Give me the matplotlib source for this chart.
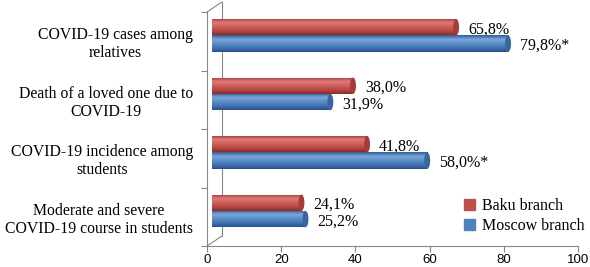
import numpy as np
import matplotlib.pyplot as plt
from matplotlib.patches import Ellipse
from matplotlib.colors import LinearSegmentedColormap
from matplotlib.lines import Line2D

categories = ["COVID-19 cases among\nrelatives",
              "Death of a loved one due to\nCOVID-19",
              "COVID-19 incidence among\nstudents",
              "Moderate and severe\nCOVID-19 course in students"]
baku = [65.8, 38.0, 41.8, 24.1]
moscow = [79.8, 31.9, 58.0, 25.2]
baku_labels = ["65,8%", "38,0%", "41,8%", "24,1%"]
moscow_labels = ["79,8%*", "31,9%", "58,0%*", "25,2%"]
xticks = [0, 20, 40, 60, 80, 100]

serif = ["Liberation Serif", "DejaVu Serif"]
sans = ["Liberation Sans", "DejaVu Sans"]

# cylinder shading, top -> bottom
red_cm = LinearSegmentedColormap.from_list("r", ["#9c3634", "#e07a76", "#d0605c", "#b84844", "#8a2c2a"])
blue_cm = LinearSegmentedColormap.from_list("b", ["#2f5c94", "#7aa6dc", "#5b8cc8", "#4474b0", "#28508a"])
red_cap = "#a43c39"
blue_cap = "#3a669e"

DX = 1.35      # depth offset of the bars (x, data units)
DY = 0.10      # depth offset (y, category units)
H = 0.28       # bar thickness
CAP = 1.6      # width of the end ellipse

fig = plt.figure(figsize=(5.9, 2.67), dpi=100)
ax = fig.add_axes([207/590, 21/267, 371/590, 234/267])

y = np.arange(len(categories))
grad = np.linspace(0, 1, 64).reshape(-1, 1)


def draw_series(vals, labels, offs, cmap, capc):
    yc = y + offs - DY
    bars = ax.barh(yc, vals, height=H, left=DX, color=cmap(0.5), linewidth=0, zorder=2)
    for rect, v, c, lab in zip(bars.patches, vals, yc, labels):
        im = ax.imshow(grad, extent=(DX, DX + v, c + H/2, c - H/2), cmap=cmap,
                       aspect="auto", zorder=3, interpolation="bilinear")
        im.set_clip_path(rect)
        ax.add_patch(Ellipse((DX + v, c), CAP, H, facecolor=capc, edgecolor="none", zorder=4))
        ax.text(DX + v + 3.2, c + 0.04, lab, va="center", ha="left",
                fontsize=11.5, family=serif, color="black")
    return bars


draw_series(baku, baku_labels, -0.14, red_cm, red_cap)
draw_series(moscow, moscow_labels, 0.14, blue_cm, blue_cap)

ax.set_xlim(0, 100)
ax.set_ylim(3.5, -0.5)
ax.set_xticks(xticks)
ax.set_xticklabels([str(t) for t in xticks], fontsize=9.5, family=sans)
ax.set_yticks(y)
ax.set_yticklabels(categories, fontsize=11.3, family=serif, multialignment="center",
                   linespacing=1.15)
ax.set_yticks(np.arange(len(categories) + 1) - 0.5, minor=True)
ax.tick_params(axis="y", which="major", length=0, pad=10)
ax.tick_params(axis="y", which="minor", length=4, color="#888888", width=0.8)
ax.tick_params(axis="x", length=4, color="#888888", width=0.8, pad=1.5)

for s in ["top", "right"]:
    ax.spines[s].set_visible(False)
for s in ["left", "bottom"]:
    ax.spines[s].set_color("#888888")
    ax.spines[s].set_linewidth(0.8)

# back wall of the 3D frame
bx, by = 15/371, 10/234
for xs, ys in [([bx, bx], [by, 1 + by]), ([0, bx], [0, by]), ([0, bx], [1, 1 + by])]:
    ax.add_line(Line2D(xs, ys, transform=ax.transAxes, color="#888888", lw=0.8, clip_on=False))

handles = [plt.Rectangle((0, 0), 1, 1, color="#c0504d"), plt.Rectangle((0, 0), 1, 1, color="#4f81bd")]
fig.legend(handles, ["Baku branch", "Moscow branch"], loc="upper left",
           bbox_to_anchor=(464/590, 1 - 198/267), frameon=False,
           prop={"family": serif, "size": 11.5}, handlelength=0.7, handleheight=0.7,
           handletextpad=0.4, labelspacing=0.25, borderpad=0, borderaxespad=0)

fig.savefig("out.png", dpi=100)
